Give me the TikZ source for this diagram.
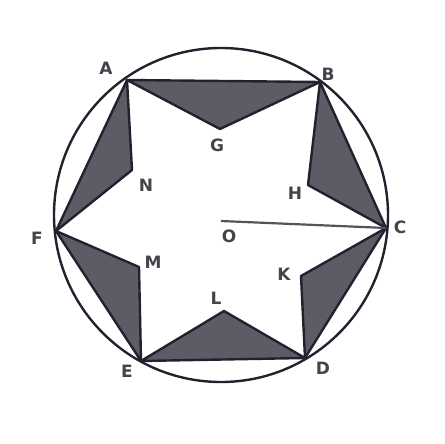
\documentclass[tikz,border=0pt]{standalone}
\usepackage{fontspec}
\setsansfont{DejaVu Sans}
\definecolor{ln}{HTML}{22212E}
\definecolor{fl}{HTML}{5C5B66}
\definecolor{lb}{HTML}{45444C}
\definecolor{oc}{HTML}{55545E}
\begin{document}
\begin{tikzpicture}[x=1pt,y=-1pt,
  edge/.style={draw=ln,line width=2.4pt,line join=round},
  tri/.style={fill=fl,draw=ln,line width=2.4pt,line join=round},
  lab/.style={text=lb,font=\sffamily\bfseries\fontsize{17}{17}\selectfont,inner sep=0pt}]
\useasboundingbox (0,0) rectangle (444,444);
\coordinate (A) at (127,80);
\coordinate (B) at (320,82);
\coordinate (C) at (386,228);
\coordinate (D) at (305,358);
\coordinate (E) at (141,361);
\coordinate (F) at (56,231);
\coordinate (G) at (220,129);
\coordinate (H) at (308,185);
\coordinate (K) at (301,276);
\coordinate (L) at (224,311);
\coordinate (M) at (139,267);
\coordinate (N) at (132,170);
\coordinate (O) at (221,221);
\draw[edge] (221,215) circle (167);
\path[tri] (A) -- (B) -- (G) -- cycle;
\path[tri] (B) -- (C) -- (H) -- cycle;
\path[tri] (C) -- (D) -- (K) -- cycle;
\path[tri] (D) -- (E) -- (L) -- cycle;
\path[tri] (E) -- (F) -- (M) -- cycle;
\path[tri] (F) -- (A) -- (N) -- cycle;
\draw[draw=oc,line width=2.2pt] (O) -- (C);
\node[lab] (lA) at (106,68) {A};
\node[lab] (lB) at (328,74) {B};
\node[lab] (lC) at (400,227) {C};
\node[lab] (lD) at (323,368) {D};
\node[lab] (lE) at (127,371) {E};
\node[lab] (lF) at (37,238) {F};
\node[lab] (lG) at (217,145) {G};
\node[lab] (lH) at (295,193) {H};
\node[lab] (lK) at (284,274) {K};
\node[lab] (lL) at (216,298) {L};
\node[lab] (lM) at (153,262) {M};
\node[lab] (lN) at (146,185) {N};
\node[lab] (lO) at (229,236) {O};
\end{tikzpicture}
\end{document}
